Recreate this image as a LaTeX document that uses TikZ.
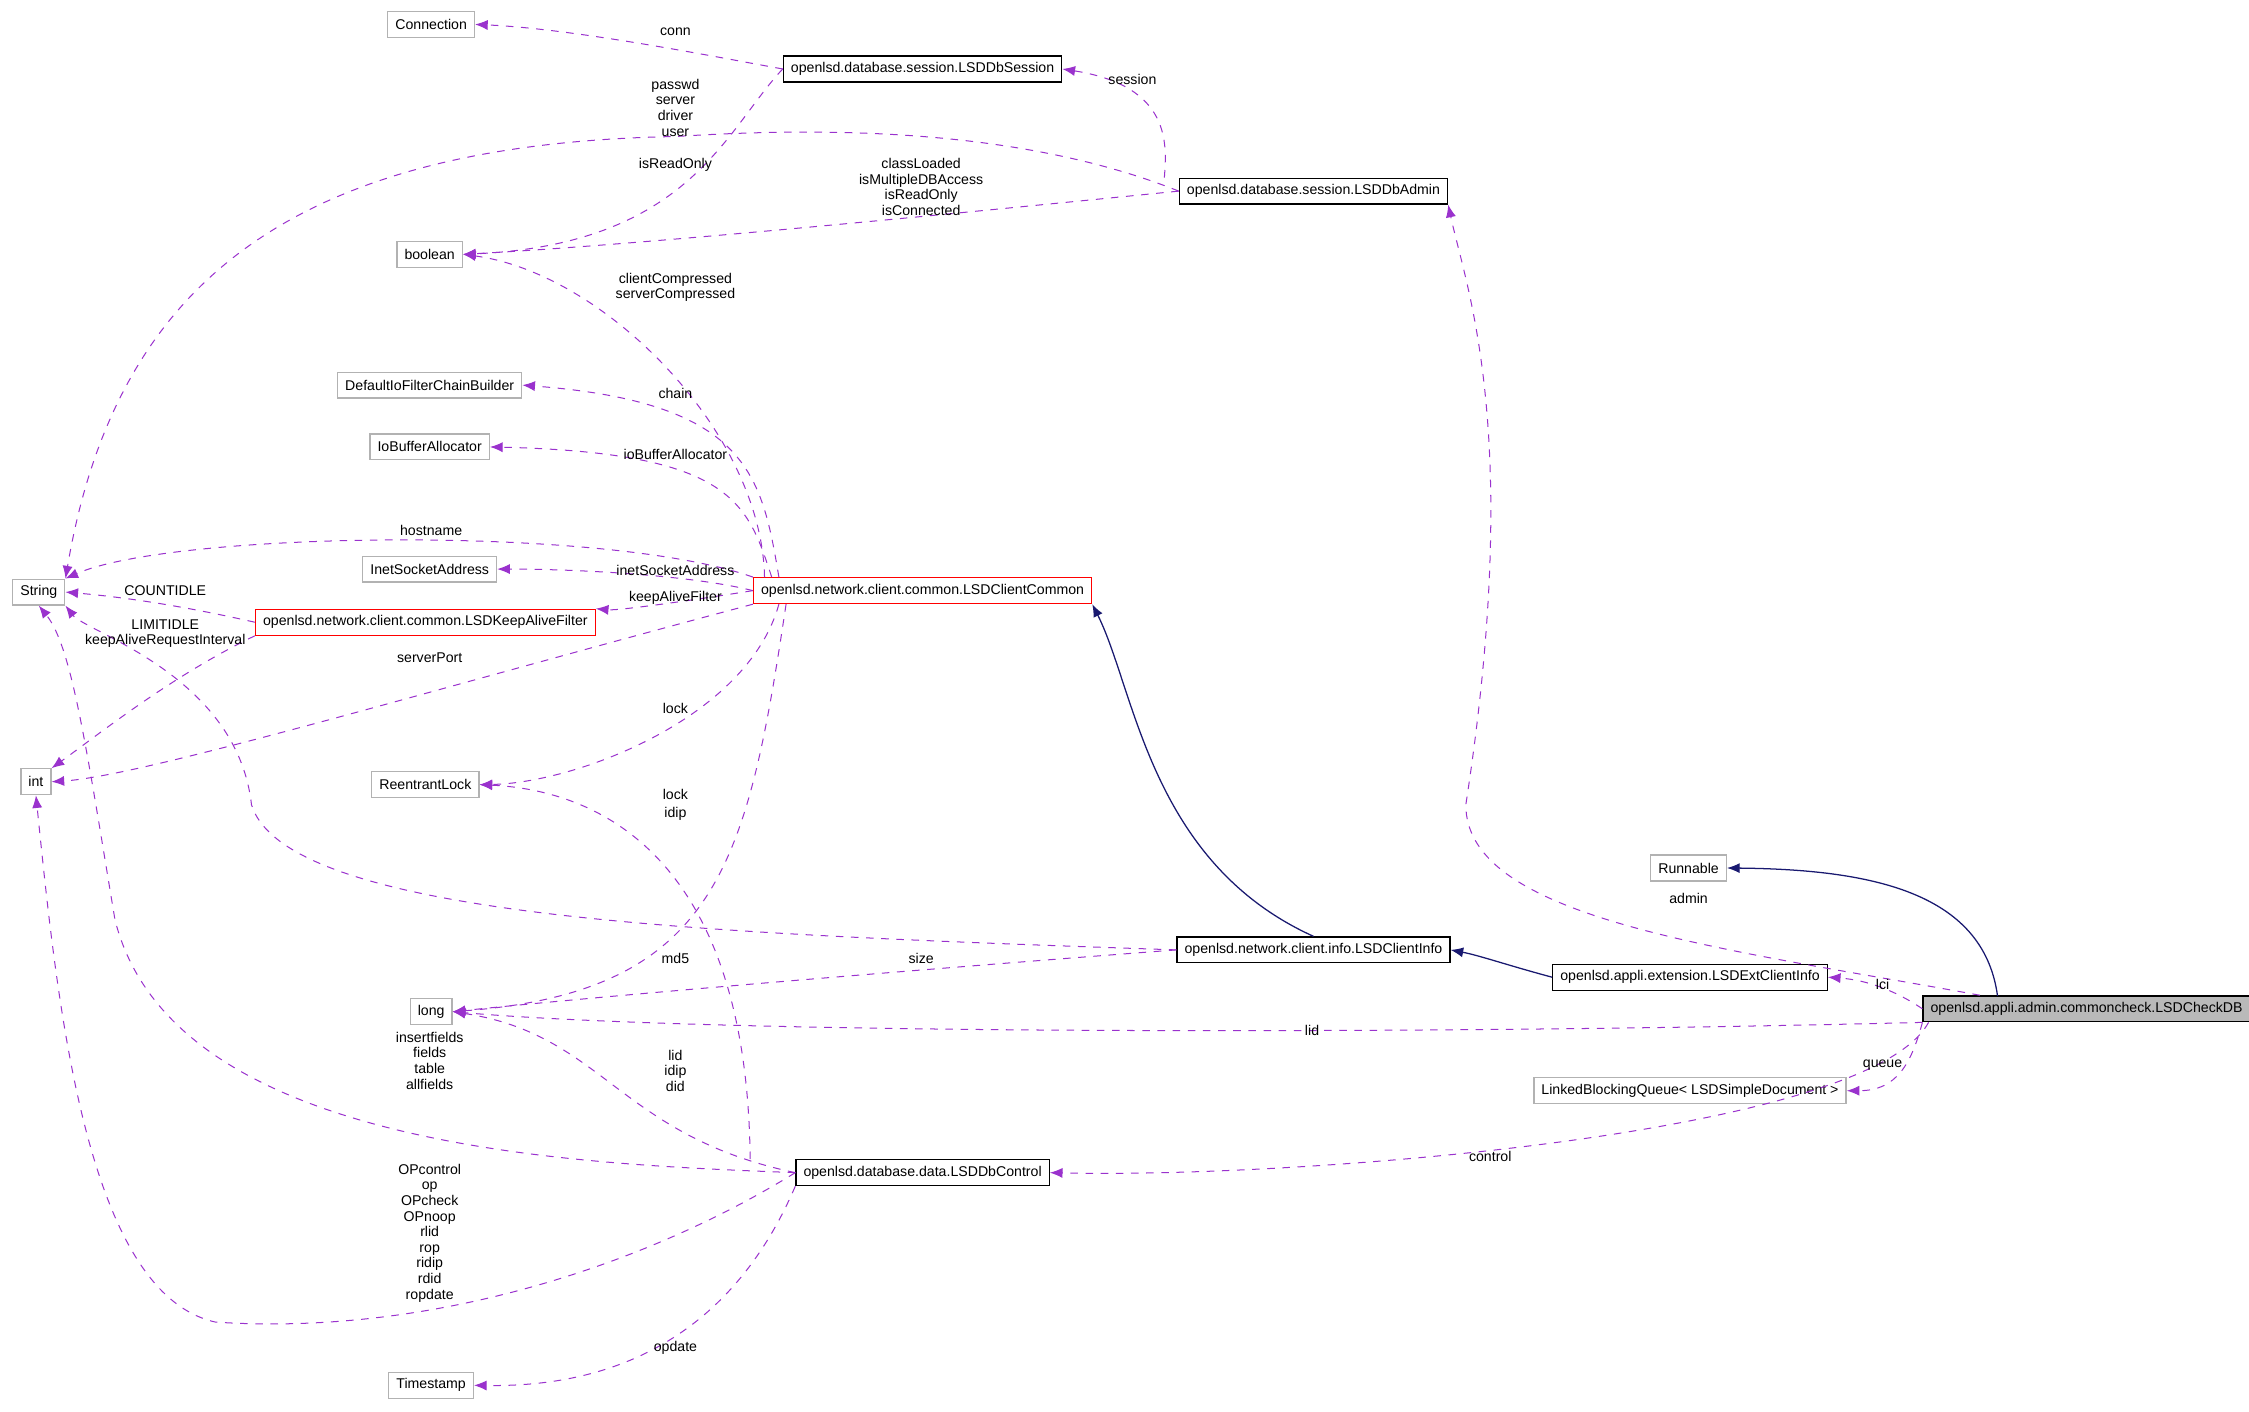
\documentclass[tikz,border=0pt]{standalone}
\usepackage{fontspec}
\setmainfont{Liberation Sans}
\usetikzlibrary{arrows.meta}
\definecolor{depcol}{RGB}{154,50,205}
\definecolor{isacol}{RGB}{25,25,112}
\begin{document}
\begin{tikzpicture}[x=0.02cm, y=-0.02cm]
\tikzset{ >={Latex[length=5pt,width=4pt]}, font=\fontsize{5.6}{6.2}\selectfont,
  cls/.style={draw=black, line width=0.5pt, minimum height=0.36cm, inner xsep=3pt, inner ysep=0pt, fill=white},
  ext/.style={cls, draw=gray!60},
  bad/.style={cls, draw=red},
  dep/.style={-{Latex[length=5pt,width=4pt,fill=depcol]}, dashed, draw=depcol, line width=0.4pt},
  isa/.style={-{Latex[length=5pt,width=4pt,fill=isacol]}, draw=isacol, line width=0.5pt},
  lbl/.style={align=center, inner sep=0pt},
}
\useasboundingbox (0,0) rectangle (1565,982);

% classes
\node [ext] (Conn)  at (300,17)  {Connection};
\node [cls] (Sess)  at (642,48)  {openlsd.database.session.LSDDbSession};
\node [cls] (Admin) at (914,133) {openlsd.database.session.LSDDbAdmin};
\node [ext] (Bool)  at (299,177) {boolean};
\node [ext] (Chain) at (299,268) {DefaultIoFilterChainBuilder};
\node [ext] (IoBuf) at (299,311) {IoBufferAllocator};
\node [ext] (Str)   at (27,412)  {String};
\node [ext] (Inet)  at (299,396) {InetSocketAddress};
\node [bad] (CC)    at (642,411) {openlsd.network.client.common.LSDClientCommon};
\node [bad] (KAF)   at (296,433) {openlsd.network.client.common.LSDKeepAliveFilter};
\node [ext] (Int)   at (25,544)  {int};
\node [ext] (RLock) at (296,546) {ReentrantLock};
\node [ext] (Run)   at (1175,604) {Runnable};
\node [cls] (Info)  at (914,661) {openlsd.network.client.info.LSDClientInfo};
\node [cls] (Ext)   at (1176,680) {openlsd.appli.extension.LSDExtClientInfo};
\node [cls, fill=gray!55] (Check) at (1452,702) {openlsd.appli.admin.commoncheck.LSDCheckDB};
\node [ext] (Long)  at (300,704) {long};
\node [ext] (Queue) at (1176,759) {LinkedBlockingQueue< LSDSimpleDocument >};
\node [cls] (Ctrl)  at (642,816) {openlsd.database.data.LSDDbControl};
\node [ext] (TS)    at (300,964) {Timestamp};

% inheritance
\draw [isa] (Info.north) .. controls (800,600) and (790,480) .. (CC.south east);
\draw [isa] (Ext.west) .. controls (1050,672) and (1030,665) .. (Info.east);
\draw [isa] (1390,693) .. controls (1380,620) and (1300,605) .. (Run.east);

% members
\draw [dep] (Sess.west) .. controls (500,40) and (400,20) .. (Conn.east);
\draw [dep] (Admin.north west) ++(-10,0) .. controls (812,100) and (815,60) .. (Sess.east);
\draw [dep] (Admin.west) .. controls (700,85) and (550,90) .. (470,95) .. controls (200,100) and (80,200) .. (Str.north east);
\draw [dep] (Admin.west) .. controls (650,150) and (450,170) .. (Bool.east);
\draw [dep] (Sess.west) .. controls (505,90) and (480,170) .. (Bool.east);
\draw [dep] (CC.north) ++(-110,0) .. controls (530,300) and (420,190) .. (Bool.east);
\draw [dep] (CC.north) ++(-100,0) .. controls (530,330) and (520,280) .. (Chain.east);
\draw [dep] (CC.north) ++(-105,0) .. controls (520,350) and (510,315) .. (IoBuf.east);
\draw [dep] (CC.north west) .. controls (420,365) and (120,370) .. (Str.north east);
\draw [dep] (CC.west) .. controls (480,400) and (400,396) .. (Inet.east);
\draw [dep] (CC.west) .. controls (480,418) and (430,425) .. (KAF.north east);
\draw [dep] (CC.south west) .. controls (300,480) and (100,540) .. (Int.east);
\draw [dep] (CC.south) ++(-100,0) .. controls (520,500) and (400,545) .. (RLock.east);
\draw [dep] (CC.south) ++(-95,0) .. controls (520,600) and (500,690) .. (Long.east);
\draw [dep] (KAF.west) .. controls (120,420) and (80,415) .. (Str.east);
\draw [dep] (KAF.south west) .. controls (120,470) and (70,510) .. (Int.north east);
\draw [dep] (Info.west) .. controls (500,650) and (200,640) .. (175,560) .. controls (165,470) and (60,440) .. (Str.south east);
\draw [dep] (Info.west) .. controls (700,670) and (450,690) .. (Long.east);
\draw [dep] (Check.north west) ++(40,0) .. controls (1200,660) and (1020,640) .. (1020,560) .. controls (1060,300) and (1020,200) .. (Admin.south east);
\draw [dep] (Check.west) .. controls (1320,690) and (1300,682) .. (Ext.east);
\draw [dep] (Check.south west) .. controls (1000,720) and (500,720) .. (Long.east);
\draw [dep] (Check.south west) .. controls (1330,740) and (1320,759) .. (Queue.east);
\draw [dep] (Check.south) ++(-110,0) .. controls (1300,790) and (900,820) .. (Ctrl.east);
\draw [dep] (Ctrl.west) .. controls (400,810) and (120,800) .. (80,640) .. controls (60,520) and (50,450) .. (Str.south);
\draw [dep] (Ctrl.west) .. controls (430,790) and (420,720) .. (Long.east);
\draw [dep] (Ctrl.north) ++(-120,0) .. controls (520,600) and (420,550) .. (RLock.east);
\draw [dep] (Ctrl.west) .. controls (450,880) and (300,930) .. (150,920) .. controls (60,900) and (40,700) .. (Int.south);
\draw [dep] (Ctrl.south west) .. controls (500,950) and (400,965) .. (TS.east);

% labels
\node [lbl] (lConn)  at (470,22)  {conn};
\node [lbl] (lSess)  at (788,55)  {session};
\node [lbl] (lPass)  at (470,75)  {passwd\\server\\driver\\user};
\node [lbl] (lClass) at (641,130) {classLoaded\\isMultipleDBAccess\\isReadOnly\\isConnected};
\node [lbl] (lRO)    at (470,115) {isReadOnly};
\node [lbl] (lComp)  at (470,200) {clientCompressed\\serverCompressed};
\node [lbl] (lChain) at (470,274) {chain};
\node [lbl] (lIoBuf) at (470,316) {ioBufferAllocator};
\node [lbl] (lHost)  at (300,369) {hostname};
\node [lbl] (lInet)  at (470,397) {inetSocketAddress};
\node [lbl] (lKAF)   at (470,416) {keepAliveFilter};
\node [lbl] (lPort)  at (299,458) {serverPort};
\node [lbl] (lLock)  at (470,493) {lock};
\node [lbl] (lIdip)  at (470,566) {idip};
\node [lbl] (lCount) at (115,411) {COUNTIDLE};
\node [lbl] (lLimit) at (115,441) {LIMITIDLE\\keepAliveRequestInterval};
\node [lbl] (lMd5)   at (470,667) {md5};
\node [lbl] (lSize)  at (641,667) {size};
\node [lbl] (lAdmin) at (1175,625) {admin};
\node [lbl] (lLci)   at (1310,685) {lci};
\node [lbl] (lLid)   at (913,717) {lid};
\node [lbl] (lQueue) at (1310,741) {queue};
\node [lbl] (lCtrl)  at (1037,805) {control};
\node [lbl] (lIns)   at (299,738) {insertfields\\fields\\table\\allfields};
\node [lbl] (lLidip) at (470,745) {lid\\idip\\did};
\node [lbl] (lLock2) at (470,553) {lock};
\node [lbl] (lOp)    at (299,858) {OPcontrol\\op\\OPcheck\\OPnoop\\rlid\\rop\\ridip\\rdid\\ropdate};
\node [lbl] (lOpd)   at (470,938) {opdate};
\end{tikzpicture}
\end{document}
